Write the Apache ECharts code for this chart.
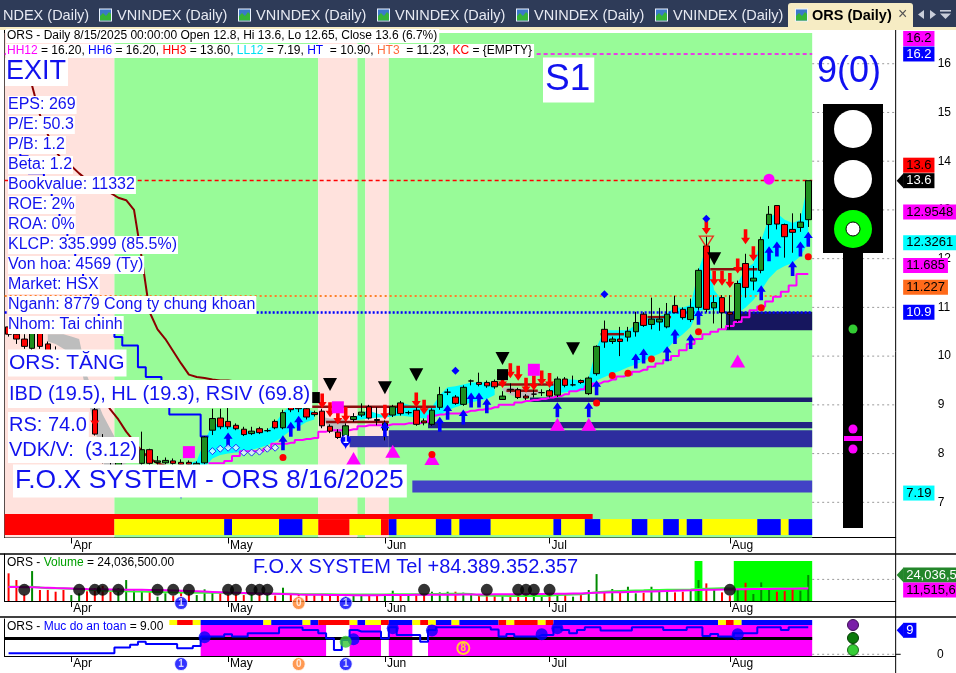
<!DOCTYPE html>
<html>
<head>
<meta charset="utf-8">
<script src="https://cdn.jsdelivr.net/npm/echarts@6/dist/echarts.min.js"></script>
<style>html,body{margin:0;padding:0;background:#fff;overflow:hidden}#chart{width:956px;height:673px}</style>
</head>
<body>
<div id="chart"></div>
<script>
// ================= DATA =================
const dates = ['03/20','03/21','03/24','03/25','03/26','03/27','03/28','03/31',
'04/01','04/02','04/03','04/04','04/08','04/09','04/10','04/11','04/14','04/15','04/16','04/17','04/18','04/21','04/22','04/23','04/24','04/25','04/28','04/29',
'05/05','05/06','05/07','05/08','05/09','05/12','05/13','05/14','05/15','05/16','05/19','05/20','05/21','05/22','05/23','05/26','05/27','05/28','05/29','05/30',
'06/02','06/03','06/04','06/05','06/06','06/09','06/10','06/11','06/12','06/13','06/16','06/17','06/18','06/19','06/20','06/23','06/24','06/25','06/26','06/27','06/30',
'07/01','07/02','07/03','07/04','07/07','07/08','07/09','07/10','07/11','07/14','07/15','07/16','07/17','07/18','07/21','07/22','07/23','07/24','07/25','07/28','07/29','07/30','07/31',
'08/01','08/04','08/05','08/06','08/07','08/08','08/11','08/12','08/13','08/14','08/15'];

const opens = [10.60,10.45,10.35,10.16,10.47,10.25,10.10,10.00,9.85,9.80,
 9.40,8.90,8.20,7.60,7.70,7.90,8.00,7.80,8.08,7.82,
 7.81,7.85,7.82,7.82,7.76,7.81,8.48,8.73,8.66,8.58,
 8.50,8.41,8.51,8.47,8.66,8.53,9.00,9.00,8.92,8.84,
 8.87,8.56,8.44,8.36,8.70,8.79,8.96,8.70,8.48,8.79,
 9.04,8.84,8.89,8.67,8.60,8.95,9.26,9.16,9.01,9.49,
 9.46,9.46,9.48,9.11,9.32,9.31,9.18,9.22,9.25,9.29,
 9.20,9.53,9.41,9.50,9.23,9.64,10.55,10.30,10.35,10.39,
 10.50,10.86,10.65,10.70,10.60,11.04,10.96,10.75,11.00,12.26,
 10.99,11.20,10.90,10.75,11.90,11.54,11.76,12.70,13.09,12.70,
 12.60,12.64,12.80];
const closes = [10.45,10.35,10.20,10.47,10.20,10.10,10.00,9.85,9.90,9.85,
 9.00,8.40,7.82,7.28,8.00,8.05,8.10,8.08,7.80,7.85,
 7.86,7.80,7.78,7.78,7.80,8.34,8.72,8.55,8.55,8.51,
 8.39,8.46,8.43,8.47,8.53,8.84,8.90,8.92,8.75,8.80,
 8.57,8.46,8.33,8.57,8.76,8.85,8.73,8.68,8.62,8.96,
 8.82,8.84,8.60,8.63,8.89,9.21,9.26,9.03,9.36,9.49,
 9.42,9.39,9.37,9.18,9.31,9.15,9.14,9.22,9.25,9.18,
 9.53,9.40,9.41,9.46,9.55,10.20,10.29,10.35,10.30,10.51,
 10.69,10.63,10.76,10.76,10.86,10.89,10.79,11.00,11.76,10.96,
 11.10,10.89,10.86,11.49,11.41,11.60,12.39,12.91,12.71,12.45,
 12.54,12.75,13.60];
const lows = [10.40,10.25,10.15,10.10,10.15,10.00,9.95,9.80,9.75,9.70,
 8.95,8.37,7.80,7.19,7.60,7.85,7.95,7.75,7.75,7.75,
 7.78,7.75,7.72,7.74,7.72,7.78,8.38,8.50,8.50,8.48,
 8.36,8.38,8.40,8.44,8.50,8.50,8.85,8.85,8.70,8.76,
 8.52,8.42,8.30,8.14,8.65,8.75,8.70,8.58,8.27,8.75,
 8.78,8.80,8.57,8.58,8.57,8.90,9.20,9.00,8.98,9.40,
 9.38,9.35,9.33,9.10,9.24,9.12,9.10,9.15,9.18,9.15,
 9.16,9.36,9.38,9.43,9.20,9.60,10.17,10.25,10.00,10.30,
 10.40,10.60,10.55,10.52,10.57,10.88,10.75,10.70,10.95,10.90,
 10.67,10.57,10.55,10.70,11.20,11.35,11.70,12.41,12.60,12.02,
 12.12,12.55,12.65];
const highs = [10.70,10.55,10.45,10.55,10.55,10.30,10.20,10.05,10.00,9.95,
 9.50,9.00,8.40,7.90,8.05,8.25,8.20,8.45,8.10,7.95,
 7.92,7.90,7.88,7.86,7.84,8.36,8.92,8.92,8.95,8.62,
 8.55,8.55,8.55,8.52,8.70,8.90,9.24,9.10,8.98,8.88,
 8.92,8.60,8.50,8.62,8.83,9.03,9.00,8.95,8.68,9.00,
 9.08,8.88,9.08,8.72,8.93,9.37,9.33,9.20,9.40,9.52,
 9.66,9.50,9.52,9.28,9.44,9.35,9.22,9.35,9.32,9.33,
 9.58,9.57,9.60,9.52,9.58,10.22,10.73,10.40,10.60,10.60,
 10.91,10.90,11.20,10.99,11.09,11.24,11.00,11.18,11.80,12.45,
 11.25,11.25,11.25,11.55,12.10,11.85,12.45,13.08,13.09,12.72,
 12.93,12.93,13.60];

// cloud (fast / slow lines) - cyan when fast above slow, grey otherwise
const cloudA = [null,null,null,null,null,
 10.30,10.25,10.15,10.05,9.95,
 9.20,8.50,7.90,7.10,7.70,7.80,
 null,null,null,null,null,null,null,
 7.80,7.85,8.27,8.58,8.62,8.58,8.52,
 8.46,8.45,8.46,8.48,8.62,8.85,8.99,8.99,8.92,8.85,
 8.72,8.50,8.38,8.40,8.72,8.85,8.88,8.82,8.78,8.92,
 9.05,9.00,8.95,8.90,8.95,9.20,9.36,9.38,9.42,9.46,
 9.46,9.46,9.46,9.30,9.20,9.15,9.14,9.18,9.26,9.36,
 9.50,9.52,9.52,9.50,9.55,10.18,10.53,10.53,10.53,10.53,
 10.65,10.75,10.80,10.82,10.88,11.00,11.00,11.05,11.76,12.24,
 11.35,11.15,10.90,11.50,11.80,11.90,12.38,12.85,12.93,12.80,
 12.73,12.80,13.61];
const cloudB = [null,null,null,null,null,
 10.45,10.45,10.45,10.40,10.35,
 9.60,9.20,8.80,8.50,8.20,7.90,
 null,null,null,null,null,null,null,
 7.75,7.70,7.72,7.90,7.97,8.00,8.02,
 8.03,8.08,8.12,8.17,8.25,8.35,8.48,8.55,8.65,8.70,
 8.75,8.72,8.72,8.70,8.68,8.70,8.72,8.74,8.74,8.76,
 8.78,8.76,8.74,8.72,8.74,8.78,8.89,8.95,9.00,9.05,
 9.09,9.12,9.20,9.35,9.36,9.34,9.32,9.30,9.28,9.26,
 9.24,9.26,9.28,9.28,9.30,9.50,9.57,9.64,9.70,9.77,
 9.83,9.90,9.98,10.05,10.15,10.32,10.45,10.60,10.94,10.94,
 10.94,10.92,11.00,10.88,11.00,11.15,11.35,11.60,11.76,11.85,
 11.91,12.05,12.33];

// magenta trailing line
const magLine = [null,null,null,null,null,null,null,null,null,null,
 null,null,null,null,null,null,null,null,null,null,
 null,null,null,null,null,null,
 7.80,7.80,7.85,7.95,8.05,8.05,8.05,8.10,8.20,8.20,
 8.22,8.28,8.30,8.32,8.45,8.48,8.48,8.48,8.50,8.56,
 8.58,8.58,8.58,8.60,8.60,8.62,8.62,8.65,8.78,8.80,
 8.82,8.82,8.85,8.88,8.90,8.92,8.95,9.00,9.00,9.05,
 9.08,9.10,9.12,9.15,9.18,9.22,9.28,9.32,9.38,9.44,
 9.48,9.52,9.58,9.62,9.68,9.72,9.78,9.85,9.92,10.00,
 10.12,10.25,10.35,10.45,10.50,10.55,10.62,10.70,10.80,10.94,
 11.02,11.12,11.22,11.32,11.45,11.685,11.685];
// blue stop line (early part)
const blueStop = [14.4,14.4,14.1,13.75,13.75,13.4,13.0,12.6,12.2,11.8,
 11.5,11.1,10.68,10.55,10.39,10.22,10.22,9.77,9.57,9.57,
 9.0,8.8,8.8,8.8,8.8,8.35];
// brown lines
const brown1 = [null,null,null,
 15.55,14.95,14.55,14.2,14.0,13.9,13.75,13.62,13.6,13.5,13.35,13.25,13.2,13.0,12.0,10.9,10.55,
 10.35,10.1,9.85,9.62,9.57,9.55,9.52,9.5,9.5,9.48,9.48,9.47,9.47,9.46,9.46,9.45,9.45,9.45];
const brown2 = [null,null,null,null,null,null,null,null,null,null,null,
 9.4,9.15,8.9,8.7,8.45,8.25,8.05,7.9,7.8,7.75];
// resistance segments [startBar, endBar, price]
const resistSegs = [[39,54,8.96],[41,48,8.65],[62,69,9.42],[64,67,9.29],[76,78,10.45],[82,84,10.8],[90,95,11.78]];
// support zones [startBar, endBar, low, high]
const zoneBands = [[92,102,10.53,10.91],[67,102,9.06,9.15],[54,102,8.52,8.65],[44,48,8.13,8.36],[49,102,8.13,8.48],[52,102,7.20,7.45]];
// horizontal levels
const levelHH12 = 16.2, levelClose = 13.6, levelHT3 = 11.227, levelHT = 10.9;

// markers [bar, price]
const upArrows = [[28,8.28],[35,8.22],[36,8.5],[37,8.62],[48,8.5],[55,8.6],[56,8.85],[58,8.75],[59,9.1],[60,9.1],[61,8.98],[70,8.9],[74,8.9],[75,9.35],[80,9.9],[81,10.0],[84,10.05],[85,10.4],[87,10.3],[88,10.8],[96,11.3],[97,12.1],[98,12.2],[100,11.8],[101,12.2],[102,12.4]];
const downArrows = [[11,8.7],[40,9.08],[41,8.9],[42,8.75],[43,8.8],[48,8.85],[52,9.1],[53,8.95],[63,9.5],[64,9.7],[65,9.65],[66,9.4],[67,9.45],[68,9.55],[69,9.5],[89,12.65],[90,11.6],[91,11.6],[92,11.55],[93,11.85],[94,12.45],[95,12.1]];
const blackTris = [[41,9.42],[48,9.35],[52,9.62],[63,9.95],[72,10.15],[90,12.0]];
const magTris = [[44,7.9],[49,8.05],[54,7.9],[70,8.6],[74,8.6],[93,9.9]];
const magSquares = [[23,8.03],[42,8.95],[67,9.72]];
const blackSquares = [[39,9.15],[63,9.62]];
const redDots = [[35,7.92],[54,7.98],[75,9.04],[77,9.6],[79,9.65],[82,9.94],[88,10.5],[96,10.99],[102,12.04]];
const blueDots = [[57,9.7],[76,11.27],[89,12.82]];
const hollowDiamonds = [[26,8.05],[27,8.1],[28,8.12],[29,8.12],[30,8.02],[31,8.02],[32,8.04],[33,8.1],[34,8.12]];
const bigMagDots = [[97,13.63]];
const hollowRedTris = [[89,12.35]];
const pins = [[43,8.08],[22,7.05]];
const pinText = ['1','!'];

// zone runs [startBar, endBar, code]
const bgRuns = [[0,13,'P'],[14,39,'G'],[40,44,'P'],[45,45,'G'],[46,48,'P'],[49,102,'G']];
const bandTopRuns = [[0,74,'R']];
const bandRuns = [[0,13,'R'],[14,27,'Y'],[28,28,'B'],[29,34,'Y'],[35,37,'B'],[38,39,'Y'],[40,43,'R'],[44,47,'Y'],[48,48,'R'],[49,49,'B'],[50,54,'Y'],[55,56,'B'],[57,57,'Y'],[58,61,'B'],[62,69,'Y'],[70,70,'B'],[71,73,'Y'],[74,75,'B'],[76,79,'Y'],[80,81,'B'],[82,83,'Y'],[84,85,'B'],[86,86,'Y'],[87,88,'B'],[89,95,'Y'],[96,98,'B'],[99,99,'Y'],[100,102,'B']];

// volume (millions)
const volumes = [25.6,19.4,6.0,27.7,10.2,10.2,8.6,10.2,5.5,7.1,
 9.0,12.0,14.0,8.6,12.0,19.4,10.2,9.5,10.2,4.0,
 7.1,5.0,9.5,7.1,5.5,10.8,7.7,7.1,6.0,6.0,
 5.5,6.0,6.0,5.5,5.0,12.3,7.1,6.5,5.5,6.5,
 6.5,6.2,6.2,6.5,5.5,5.5,6.2,5.5,6.5,9.5,
 6.5,5.5,6.2,6.0,8.6,8.0,8.6,8.6,7.7,7.1,
 5.5,6.0,5.5,5.5,5.5,6.0,6.0,6.0,5.5,6.0,
 7.1,6.5,4.0,5.5,10.2,24.9,9.2,11.1,8.0,13.2,
 7.1,7.7,13.2,10.2,10.2,8.0,8.6,9.5,19.4,16.3,
 10.2,8.0,5.0,10.2,16.9,6.5,17.2,12.6,8.6,9.2,
 11.7,9.5,24.0365];
const volMaSlow = [13.0,13.0,12.8,12.8,12.5,12.3,12.0,11.8,11.5,11.2,
 11.0,10.9,10.8,10.7,10.6,10.5,10.4,10.3,10.2,10.1,
 10.0,9.8,9.6,9.3,9.0,8.7,8.4,8.1,7.8,7.6,
 7.4,7.2,7.0,6.8,6.6,6.4,6.2,6.0,5.9,5.8,
 5.7,5.6,5.5,5.5,5.4,5.4,5.4,5.4,5.5,5.5,
 5.6,5.6,5.7,5.7,5.8,5.8,5.9,5.9,6.0,6.0,
 6.1,6.1,6.2,6.2,6.3,6.3,6.4,6.4,6.5,6.6,
 6.7,6.8,6.9,7.0,7.3,7.6,7.8,8.0,8.2,8.4,
 8.6,8.7,8.9,9.1,9.3,9.5,9.7,9.9,10.2,10.4,
 10.5,10.6,10.7,10.8,10.9,11.0,11.1,11.2,11.3,11.4,
 11.45,11.5,11.5157];
const volMaFast = [13.2,13.2,13.0,13.2,12.5,11.8,11.7,11.6,11.4,11.0,
 10.6,10.2,9.8,9.4,9.2,9.0,8.9,8.8,8.6,8.4,
 8.2,8.0,7.9,7.8,7.7,7.7,7.7,7.6,7.5,7.3,
 7.2,7.1,7.0,6.9,6.8,6.8,6.6,6.4,6.3,6.2,
 6.2,6.2,6.1,6.1,6.0,6.0,6.0,6.0,6.1,6.2,
 6.2,6.2,6.2,6.3,6.4,6.5,6.6,6.6,6.6,6.5,
 5.2,5.0,4.9,4.8,4.7,4.6,4.6,4.6,4.7,4.8,
 5.6,5.8,6.0,6.3,7.2,8.0,8.5,9.0,9.3,9.6,
 9.8,9.9,10.1,10.2,10.3,10.3,10.4,10.6,11.0,11.4,
 11.6,11.7,11.6,11.6,11.8,11.8,12.0,12.1,12.0,11.9,
 11.8,11.8,12.2];
const volDotBars = [2,9,11,12,14,19,21,23,28,29,31,32,33,53,61,65,66,67,69,92];
const volDotLevel = 10.3;
const volHighlightRuns = [[88,88,'L'],[93,102,'L']];

// safety index ("Muc do an toan")
const safety = [0.34,0.34,0.34,0.34,0.34,0.34,0.34,0.34,0.34,0.34,
 0.34,0.34,0.34,0.34,2.3,2.3,3.2,4.2,3.4,3.4,
 3.4,3.4,2.0,2.0,2.8,5.9,5.9,5.9,6.7,5.9,
 5.9,7.0,7.0,7.0,7.0,8.9,8.9,8.9,8.1,8.1,
 7.0,5.3,1.4,4.8,8.1,7.6,7.6,7.6,5.3,9.0,
 6.4,6.4,6.4,4.2,8.1,9.0,9.0,9.0,9.0,9.0,
 9.0,9.0,8.3,5.9,6.8,5.9,5.9,5.9,6.4,6.4,
 9.0,8.1,7.0,8.1,9.0,9.0,7.9,7.9,7.9,7.9,
 9.0,9.0,9.0,9.0,8.1,8.1,8.1,9.0,9.0,6.1,
 6.8,5.9,5.9,7.0,7.0,7.0,9.0,9.0,9.0,8.1,
 9.0,9.0,9.0];
const safetyThreshold = 5.2;
const safetyBlueDots = [[25,5.7],[44,5.0],[49,8.7],[54,7.9],[68,6.7],[70,8.7],[93,6.7]];
const safetyGreenDots = [[43,4.2]];
const safetyFillRuns = [[25,40,'M'],[44,47,'M'],[49,51,'M'],[54,102,'M']];
const safetyBandRuns = [[21,21,'Y'],[22,23,'R'],[24,24,'Y'],[25,32,'B'],[33,33,'Y'],[34,37,'B'],[38,38,'Y'],[39,39,'B'],[40,43,'R'],[44,44,'Y'],[45,45,'B'],[46,47,'Y'],[48,48,'R'],[49,51,'B'],[52,52,'Y'],[53,53,'R'],[54,54,'Y'],[55,56,'B'],[57,57,'Y'],[58,62,'B'],[63,63,'R'],[64,64,'Y'],[65,67,'R'],[68,68,'Y'],[69,69,'R'],[70,90,'B'],[91,91,'Y'],[92,92,'R'],[93,93,'Y'],[94,102,'B']];
const badgeBars = [22,37,43];
const badgeText = ['1','0','1'];
const safetyEightBar = [[58,2.1]];

// axis ticks / right-hand tags
const priceTicks = [7,8,9,10,11,12,13,14,15,16];
const tagLevels = [16.2,16.2,13.6,13.6,12.9548,12.3261,11.685,11.227,10.9,7.19];
const tagLabels = ['16.2','16.2','13.6','13.6','12.9548','12.3261','11.685','11.227','10.9','7.19'];
const volTagLevels = [24.0365, 11.5157];
const volTagLabels = ['24,036,500','11,515,669'];
const safetyTagLevel = 9, safetyTagLabel = '9';

// ================= LAYOUT / STYLE =================
const FONT = '"Liberation Sans", Arial, Helvetica, sans-serif';
const N = dates.length;
const CW = 7.84, GL = 4.66, DW = N * CW, AXW = 891;
const MAIN_TOP = 30, MAIN_H = 507.5, P_MIN = 6.278, P_MAX = 16.692;
const BG_TOP = 16.63;
const BAND_R_TOP = 6.759, BAND_C_TOP = 6.656, BAND_C_BOT = 6.328;
const VOL_TOP = 554, VOL_H = 47, VOL_MAX = 43.5, VOL_HL_TOP = 37, BADGE_V = -1.9;
const SAF_TOP = 619, SAF_H = 37, S_MIN = -0.57, S_MAX = 11.77, S_FILL_TOP = 9.77, S_BAND_TOP = 11.43, S_BADGE = -3.25;
const colorMap = {P:'#FFE2DD', G:'#98FB98', R:'#FF0000', Y:'#FFFF00', B:'#0000FF', M:'#FF00FF', L:'#00FF00'};
const zoneColors = ['#16165E','#1C1C70','#232384','#3535AA','#2D2D9E','#4242C6'];
const TXT = '#1212EE';

const MONTHS = {'03':'Mar','04':'Apr','05':'May','06':'Jun','07':'Jul','08':'Aug'};
function monthStart(i){ return i > 0 && dates[i].slice(0,2) !== dates[i-1].slice(0,2); }

function catAxis(gi){
  return {type:'category', gridIndex:gi, data:dates, boundaryGap:true,
    axisLine:{show:true, onZero:false, lineStyle:{color:'#000', width:1}},
    axisTick:{show:true, interval:(i)=>monthStart(i), alignWithLabel:true, length:6, lineStyle:{color:'#000'}},
    axisLabel:{show:true, interval:(i)=>monthStart(i), formatter:(v)=>MONTHS[v.slice(0,2)], align:'left', margin:2, padding:[0,0,0,2], color:'#000', fontSize:12, fontFamily:FONT},
    splitLine:{show:false}};
}
function pxAxis(gi){
  return {type:'value', gridIndex:gi, min:0, max:AXW, axisLine:{show:true, onZero:false, lineStyle:{color:'#000'}}, axisTick:{show:false}, axisLabel:{show:false}, splitLine:{show:false}};
}
function hidY(gi, mn, mx){ return {type:'value', gridIndex:gi, min:mn, max:mx, show:false, splitLine:{show:false}}; }

function runSeries(runs, top, bot, gi, z){
  return {type:'custom', xAxisIndex:gi, yAxisIndex:gi, z:z, silent:true,
    renderItem:function(params, api){
      const s = api.value(0), e = api.value(1);
      const a = api.coord([s, top]), b = api.coord([e, bot]);
      const w = api.size([1,0])[0];
      return {type:'rect', shape:{x:a[0]-w/2, y:a[1], width:b[0]-a[0]+w, height:b[1]-a[1]}, style:{fill:api.visual('color')}};
    },
    data: runs.map(r => ({value:[r[0], r[1]], itemStyle:{color:colorMap[r[2]]}}))};
}
function scat(data, symbol, size, color, extra){
  return Object.assign({type:'scatter', xAxisIndex:0, yAxisIndex:0, z:6, silent:true, symbol:symbol, symbolSize:size,
    itemStyle:{color:color, opacity:1}, data:data}, extra||{});
}
function gridLines(ticks, gi){
  return {type:'custom', xAxisIndex:gi, yAxisIndex:gi, z:1, silent:true,
    renderItem:function(params, api){
      const v = api.value(1);
      const a = api.coord([DW, v]), b = api.coord([AXW, v]);
      return {type:'line', shape:{x1:a[0], y1:a[1], x2:b[0], y2:b[1]}, style:{stroke:'#9a9a9a', lineWidth:1, lineDash:[2,3]}};
    },
    data: ticks.map(v => [0, v])};
}

// cloud split
const cyBase = cloudA.map((a,i) => (a == null || a < cloudB[i]) ? null : cloudB[i]);
const cyDiff = cloudA.map((a,i) => (a == null || a < cloudB[i]) ? null : +(a - cloudB[i]).toFixed(4));
const grBase = cloudA.map((a,i) => (a == null || a >= cloudB[i]) ? null : a);
const grDiff = cloudA.map((a,i) => (a == null || a >= cloudB[i]) ? null : +(cloudB[i] - a).toFixed(4));
const pad = (arr) => arr.concat(new Array(Math.max(0, N - arr.length)).fill(null));

const UP_ARROW = 'path://M5,0L10,6L7,6L7,14L3,14L3,6L0,6Z';
const DOWN_ARROW = 'path://M3,0L7,0L7,8L10,8L5,14L0,8L3,8Z';
const DOWN_TRI = 'path://M0,0L10,0L5,9Z';

const series = [
  runSeries(bgRuns, BG_TOP, P_MIN, 0, 1),
  {type:'custom', xAxisIndex:0, yAxisIndex:0, z:2, silent:true,
   renderItem:function(params, api){
     const a = api.coord([api.value(0), api.value(3)]), b = api.coord([api.value(1), api.value(2)]);
     const w = api.size([1,0])[0];
     return {type:'rect', shape:{x:a[0]-w/2, y:a[1], width:b[0]-a[0]+w, height:b[1]-a[1]}, style:{fill:api.visual('color')}};
   },
   data: zoneBands.map((z,i) => ({value:z, itemStyle:{color:zoneColors[i]}}))},
  runSeries(bandTopRuns, BAND_R_TOP, BAND_C_TOP, 0, 2),
  runSeries(bandRuns, BAND_C_TOP, BAND_C_BOT, 0, 2),
  {type:'line', xAxisIndex:0, yAxisIndex:0, stack:'cy', data:cyBase, symbol:'none', lineStyle:{opacity:0}, z:3, silent:true},
  {type:'line', xAxisIndex:0, yAxisIndex:0, stack:'cy', data:cyDiff, symbol:'none', lineStyle:{width:0, opacity:0}, areaStyle:{color:'#00FFFF', opacity:1}, z:3, silent:true},
  {type:'line', xAxisIndex:0, yAxisIndex:0, stack:'gr', data:grBase, symbol:'none', lineStyle:{opacity:0}, z:3, silent:true},
  {type:'line', xAxisIndex:0, yAxisIndex:0, stack:'gr', data:grDiff, symbol:'none', lineStyle:{width:0, opacity:0}, areaStyle:{color:'#BDBDBD', opacity:1}, z:3, silent:true},
  {type:'line', xAxisIndex:0, yAxisIndex:0, data:magLine, step:'middle', symbol:'none', lineStyle:{color:'#FF00FF', width:2}, z:4, silent:true,
   markLine:{silent:true, symbol:'none', z:4, label:{show:false}, data:[
     {yAxis:levelHH12, lineStyle:{color:'#FF00FF', type:[4,3], width:1.5}},
     {yAxis:levelClose, lineStyle:{color:'#FF0000', type:[4,3], width:1.3}},
     {yAxis:levelHT3, lineStyle:{color:'#FF7F27', type:[2,3], width:2}},
     {yAxis:levelHT, lineStyle:{color:'#0000FF', type:[2,2], width:2.5}}]}},
  {type:'line', xAxisIndex:0, yAxisIndex:0, data:pad(blueStop), step:'middle', symbol:'none', lineStyle:{color:'#0000FF', width:2}, z:4, silent:true},
  {type:'line', xAxisIndex:0, yAxisIndex:0, data:pad(brown1), symbol:'none', lineStyle:{color:'#8B0000', width:2}, z:4, silent:true},
  {type:'line', xAxisIndex:0, yAxisIndex:0, data:pad(brown2), symbol:'none', lineStyle:{color:'#8B0000', width:2}, z:4, silent:true},
  {type:'custom', xAxisIndex:0, yAxisIndex:0, z:4, silent:true,
   renderItem:function(params, api){
     const a = api.coord([api.value(0), api.value(2)]), b = api.coord([api.value(1), api.value(2)]);
     const w = api.size([1,0])[0];
     return {type:'line', shape:{x1:a[0]-w/2, y1:a[1], x2:b[0]+w/2, y2:b[1]}, style:{stroke:'#8B1010', lineWidth:2.5}};
   },
   data: resistSegs},
  {type:'candlestick', xAxisIndex:0, yAxisIndex:0, z:5, silent:true, barWidth:6,
   itemStyle:{color:'#1E8E1E', color0:'#FF0000', borderColor:'#000', borderColor0:'#000', borderWidth:1},
   data: dates.map((d,i) => [opens[i], closes[i], lows[i], highs[i]])},
  scat(upArrows, UP_ARROW, [9,15], '#0000FF'),
  scat(downArrows, DOWN_ARROW, [9,15], '#FF0000'),
  scat(blackTris, DOWN_TRI, [14,13], '#000000'),
  scat(magTris, 'triangle', [15,13], '#FF00FF'),
  scat(magSquares, 'rect', 12, '#FF00FF'),
  scat(blackSquares, 'rect', 11, '#000000'),
  scat(redDots, 'circle', 7, '#FF0000'),
  scat(blueDots, 'diamond', 8, '#0000FF'),
  scat(hollowDiamonds, 'diamond', 7, '#FFFFFF', {itemStyle:{color:'#E0FFFF', borderColor:'#0000FF', borderWidth:1}}),
  scat(bigMagDots, 'circle', 11, '#FF00FF'),
  scat(hollowRedTris, DOWN_TRI, [14,11], '#FF0000', {itemStyle:{color:'rgba(0,0,0,0)', borderColor:'#FF0000', borderWidth:1.3}}),
  scat(pins.map((p,i) => ({value:p, label:{formatter:pinText[i]}})), 'pin', 17, '#0000FF',
    {label:{show:true, position:'inside', offset:[0,-1], color:'#fff', fontSize:10, fontWeight:'bold', fontFamily:FONT}}),
  // price axis right-area gridlines
  gridLines(priceTicks, 1),
  // ---- volume ----
  runSeries(volHighlightRuns, VOL_HL_TOP, 0, 2, 1),
  {type:'bar', xAxisIndex:2, yAxisIndex:2, z:2, silent:true, barWidth:2,
   data: volumes.map((v,i) => ({value:v, itemStyle:{color: closes[i] >= opens[i] ? '#008A00' : '#FF0000'}}))},
  {type:'line', xAxisIndex:2, yAxisIndex:2, z:3, data:volMaFast, symbol:'none', lineStyle:{color:'#33FF33', width:2}, silent:true},
  {type:'line', xAxisIndex:2, yAxisIndex:2, z:3, data:volMaSlow, symbol:'none', lineStyle:{color:'#FF00FF', width:2}, silent:true},
  {type:'scatter', xAxisIndex:2, yAxisIndex:2, z:4, silent:true, symbol:'circle', symbolSize:12, itemStyle:{color:'#000'},
   data: volDotBars.map(b => [b, volDotLevel])},
  {type:'scatter', xAxisIndex:2, yAxisIndex:2, z:5, silent:true, clip:false, symbol:'circle', symbolSize:13,
   label:{show:true, position:'inside', color:'#fff', fontSize:10, fontWeight:'bold', fontFamily:FONT},
   data: badgeBars.map((b,i) => ({value:[b, BADGE_V], label:{formatter:badgeText[i]}, itemStyle:{color: badgeText[i]==='0' ? '#FF7F27' : '#0000FF', borderColor:'#fff', borderWidth:1}}))},
  gridLines([20], 3),
  // ---- safety ----
  runSeries(safetyFillRuns, S_FILL_TOP, S_MIN, 4, 1),
  runSeries(safetyBandRuns, S_BAND_TOP, S_FILL_TOP, 4, 1),
  {type:'line', xAxisIndex:4, yAxisIndex:4, z:3, data:safety, step:'middle', symbol:'none', lineStyle:{color:'#0000FF', width:2}, silent:true,
   markLine:{silent:true, symbol:'none', z:2, label:{show:false}, data:[{yAxis:safetyThreshold, lineStyle:{color:'#000', type:'solid', width:3}}]}},
  {type:'scatter', xAxisIndex:4, yAxisIndex:4, z:4, silent:true, symbol:'circle', symbolSize:12, itemStyle:{color:'#0000FF'}, data:safetyBlueDots},
  {type:'scatter', xAxisIndex:4, yAxisIndex:4, z:4, silent:true, symbol:'circle', symbolSize:12, itemStyle:{color:'#33C633'}, data:safetyGreenDots},
  {type:'scatter', xAxisIndex:4, yAxisIndex:4, z:5, silent:true, symbol:'circle', symbolSize:12,
   itemStyle:{color:'rgba(0,0,0,0)', borderColor:'#FFFF00', borderWidth:2},
   label:{show:true, position:'inside', formatter:'8', color:'#FFFF00', fontSize:10, fontWeight:'bold', fontFamily:FONT}, data:safetyEightBar},
  {type:'scatter', xAxisIndex:4, yAxisIndex:4, z:5, silent:true, clip:false, symbol:'circle', symbolSize:13,
   label:{show:true, position:'inside', color:'#fff', fontSize:10, fontWeight:'bold', fontFamily:FONT},
   data: badgeBars.map((b,i) => ({value:[b, S_BADGE], label:{formatter:badgeText[i]}, itemStyle:{color: badgeText[i]==='0' ? '#FF7F27' : '#0000FF', borderColor:'#fff', borderWidth:1}}))},
  gridLines([0], 5)
];

const grids = [
  {left:GL, top:MAIN_TOP, width:DW, height:MAIN_H},
  {left:GL, top:MAIN_TOP, width:AXW, height:MAIN_H},
  {left:GL, top:VOL_TOP, width:DW, height:VOL_H},
  {left:GL, top:VOL_TOP, width:AXW, height:VOL_H},
  {left:GL, top:SAF_TOP, width:DW, height:SAF_H},
  {left:GL, top:SAF_TOP, width:AXW, height:SAF_H}
].map(g => Object.assign(g, {containLabel:false, outerBoundsMode:'none', show:false}));

const option = {
  animation:false,
  backgroundColor:'#ffffff',
  textStyle:{fontFamily:FONT},
  grid: grids,
  xAxis:[catAxis(0), pxAxis(1), catAxis(2), pxAxis(3), catAxis(4), pxAxis(5)],
  yAxis:[
    hidY(0, P_MIN, P_MAX),
    {type:'value', gridIndex:1, position:'right', min:P_MIN, max:P_MAX, minInterval:1, maxInterval:1, splitNumber:10,
     axisLine:{show:true, lineStyle:{color:'#000'}}, axisTick:{show:true, length:5, lineStyle:{color:'#000'}},
     axisLabel:{show:true, margin:42, showMinLabel:false, showMaxLabel:false, color:'#000', fontSize:12, fontFamily:FONT,
       formatter:(v)=> Math.abs(v - Math.round(v)) < 1e-6 ? String(Math.round(v)) : ''},
     splitLine:{show:false}},
    hidY(2, 0, VOL_MAX),
    {type:'value', gridIndex:3, position:'right', min:0, max:VOL_MAX, axisLine:{show:true, lineStyle:{color:'#000'}}, axisTick:{show:false}, axisLabel:{show:false}, splitLine:{show:false}},
    hidY(4, S_MIN, S_MAX),
    {type:'value', gridIndex:5, position:'right', min:S_MIN, max:S_MAX, axisLine:{show:true, lineStyle:{color:'#000'}}, axisTick:{show:false}, axisLabel:{show:false}, splitLine:{show:false}}
  ],
  series: series
};

const chart = echarts.init(document.getElementById('chart'), null, {renderer:'canvas', width:956, height:673});
chart.setOption(option);

// ================= OVERLAY GRAPHICS =================
const G = [];
function T(x, y, text, size, o){
  o = o || {};
  const st = Object.assign({text:text, font:(o.weight||'normal')+' '+size+'px '+FONT, fill:o.fill||TXT, align:o.align||'left', verticalAlign:'middle'}, o.style||{});
  return {type:'text', x:x, y:y, z:100, silent:true, style:st};
}
function box(x, y, text, size, padding, o){
  o = o || {};
  return T(x, y, text, size, Object.assign({}, o, {style:Object.assign({backgroundColor:'#ffffff', padding:padding}, o.style||{})}));
}
function R(x, y, w, h, fill, extra){ return Object.assign({type:'rect', z:100, silent:true, shape:{x:x, y:y, width:w, height:h}, style:{fill:fill}}, extra||{}); }
function Cc(cx, cy, r, fill, stroke, lw){ return {type:'circle', z:101, silent:true, shape:{cx:cx, cy:cy, r:r}, style:{fill:fill, stroke:stroke||null, lineWidth:lw||0}}; }
function Ln(x1, y1, x2, y2, stroke, lw){ return {type:'line', z:100, silent:true, shape:{x1:x1, y1:y1, x2:x2, y2:y2}, style:{stroke:stroke, lineWidth:lw}}; }
function Poly(pts, fill){ return {type:'polygon', z:101, silent:true, shape:{points:pts}, style:{fill:fill}}; }

// tab bar
G.push(R(0, 0, 956, 27, '#2E3B58'));
G.push(R(0, 27, 956, 3, '#F6ECC4'));
G.push(R(788, 3, 125, 27, '#F6ECC4', {shape:{x:788, y:3, width:125, height:27, r:[3,3,0,0]}}));
const tabTextX = [3, 117, 256, 395, 534, 673];
const tabIconX = [99, 238, 377, 516, 655, 795];
tabTextX.forEach((x,i) => G.push(T(x, 15.5, i === 0 ? 'NDEX (Daily)' : 'VNINDEX (Daily)', 14.5, {fill:'#E6E9F2'})));
tabIconX.forEach(x => {
  G.push(R(x, 8.5, 13, 13, '#EAF2FF'));
  G.push(R(x+1, 9.5, 11, 11, '#3C78C8'));
  G.push(Poly([[x+1,20.5],[x+1,16],[x+4,13],[x+7,16],[x+10,12],[x+12,14],[x+12,20.5]], '#36B436'));
});
G.push(T(812, 15.5, 'ORS (Daily)', 14.5, {fill:'#000', weight:'bold'}));
G.push(T(898, 15, '\u00d7', 16, {fill:'#555'}));
G.push(Poly([[918,14.5],[924,10],[924,19]], '#C9CEDA'));
G.push(Poly([[930,10],[930,19],[936,14.5]], '#C9CEDA'));
G.push(R(940, 10, 11, 1.6, '#C9CEDA'));
G.push(Poly([[940,13.5],[951,13.5],[945.5,19]], '#C9CEDA'));

// header
G.push(box(6, 36, 'ORS - Daily 8/15/2025 00:00:00 Open 12.8, Hi 13.6, Lo 12.65, Close 13.6 (6.7%)', 12, [1,2,1,1], {fill:'#000'}));
G.push({type:'text', x:6, y:51, z:100, silent:true, style:{
  text:'{m|HH12} = 16.20, {b|HH6} = 16.20, {r|HH3} = 13.60, {c|LL12} = 7.19, {b|HT}  = 10.90, {o|HT3}  = 11.23, {r|KC} = {EMPTY}',
  font:'12px '+FONT, fill:'#000', align:'left', verticalAlign:'middle', backgroundColor:'#fff', padding:[1,2,1,1],
  rich:{m:{fill:'#FF00FF', font:'12px '+FONT}, b:{fill:'#0000FF', font:'12px '+FONT}, r:{fill:'#FF0000', font:'12px '+FONT}, c:{fill:'#00E0F0', font:'12px '+FONT}, o:{fill:'#FF6A3A', font:'12px '+FONT}}}});

// left info block
G.push(box(5, 72, 'EXIT', 27, [1,2,0,1]));
const infoLines = ['EPS: 269','P/E: 50.3','P/B: 1.2','Beta: 1.2','Bookvalue: 11332','ROE: 2%','ROA: 0%','KLCP: 335.999 (85.5%)','Von hoa: 4569 (Ty)','Market: HSX','Nganh: 8779 Cong ty chung khoan','Nhom: Tai chinh'];
infoLines.forEach((s,i) => G.push(box(8, 105 + 20*i, s, 16, [1,1,1,0])));
G.push(box(8, 363, 'ORS: T\u0102NG', 21, [3,2,3,1]));
G.push(box(8, 394, 'IBD (19.5), HL (19.3), RSIV (69.8)', 20, [4,2,4,1]));
G.push(box(8, 425, 'RS: 74.0', 20, [3,2,3,1]));
G.push(box(8, 450, 'VDK/V:  (3.12)', 20, [3,2,3,1]));
G.push(box(13, 481, 'F.O.X SYSTEM - ORS 8/16/2025', 26.5, [3,3,3,2]));
G.push(box(543, 80, 'S1', 37, [4,4,4,2]));
G.push(T(817, 72, '9(0)', 36, {fill:'#1010F0'}));

// traffic light
G.push(R(823, 104, 60, 149, '#000'));
G.push(R(843, 253, 20, 275, '#000'));
G.push(Cc(853, 129, 19, '#fff'));
G.push(Cc(853, 179, 19, '#fff'));
G.push(Cc(853, 229, 19, '#00FF00'));
G.push(Cc(853, 229, 7, '#fff', '#000', 1));
G.push(Cc(853, 329, 4.5, '#33CC33'));
G.push(Cc(853, 429, 4.5, '#FF00FF'));
G.push(Cc(853, 449, 4.5, '#FF00FF'));
G.push(R(844, 436, 18, 5, '#FF00FF', {z:102}));
// safety side dots
G.push(Cc(853, 625, 5.5, '#7A1FA8', '#3c0f55', 1));
G.push(Cc(853, 638, 5.5, '#0B7A0B', '#053c05', 1));
G.push(Cc(853, 650, 5.5, '#36CD36', '#1b661b', 1));

// panel separators and axis spine
G.push(Ln(0, 554, 956, 554, '#000', 1.5));
G.push(Ln(0, 617, 956, 617, '#000', 1.5));
G.push(Ln(GL + AXW, 30, GL + AXW, 673, '#000', 1));

// panel titles
G.push({type:'text', x:6, y:563, z:100, silent:true, style:{text:'ORS - {g|Volume} = 24,036,500.00', font:'12px '+FONT, fill:'#000', align:'left', verticalAlign:'middle', backgroundColor:'#fff', padding:[1,2,1,1], rich:{g:{fill:'#00A000', font:'12px '+FONT}}}});
G.push(T(253, 567, 'F.O.X SYSTEM Tel +84.389.352.357', 20));
G.push({type:'text', x:6, y:627, z:100, silent:true, style:{text:'ORS - {b|Muc do an toan} = 9.00', font:'12px '+FONT, fill:'#000', align:'left', verticalAlign:'middle', backgroundColor:'#fff', padding:[1,2,1,1], rich:{b:{fill:'#0000FF', font:'12px '+FONT}}}});

// right tags
const TAGX = GL + AXW + 7.5;
const tagStyle = [
  {bg:'#FF00FF', fg:'#000', dy:-15.5}, {bg:'#0000FF', fg:'#fff', dy:0},
  {bg:'#FF0000', fg:'#000', dy:-15.5}, {bg:'#000000', fg:'#fff', dy:0, ptr:true},
  {bg:'#FF00FF', fg:'#000', dy:0}, {bg:'#00FFFF', fg:'#000', dy:0},
  {bg:'#FF00FF', fg:'#000', dy:-8.5}, {bg:'#FF6A1A', fg:'#000', dy:-9},
  {bg:'#0000FF', fg:'#fff', dy:0}, {bg:'#00FFFF', fg:'#000', dy:0}];
function tag(y, label, st){
  if (st.ptr) G.push(Poly([[GL+AXW+1, y], [TAGX+0.5, y-7.5], [TAGX+0.5, y+7.5]], st.bg));
  G.push({type:'text', x:TAGX, y:y, z:101, silent:true, style:{text:label, font:'13px '+FONT, fill:st.fg, align:'left', verticalAlign:'middle', backgroundColor:st.bg, padding:[1,3,1,3]}});
}
tagLevels.forEach((v,i) => tag(chart.convertToPixel({yAxisIndex:1}, v) + tagStyle[i].dy, tagLabels[i], tagStyle[i]));
tag(chart.convertToPixel({yAxisIndex:3}, volTagLevels[0]), volTagLabels[0], {bg:'#23862A', fg:'#fff', ptr:true});
tag(chart.convertToPixel({yAxisIndex:3}, volTagLevels[1]) + 1.5, volTagLabels[1], {bg:'#FF00FF', fg:'#000'});
tag(chart.convertToPixel({yAxisIndex:5}, safetyTagLevel) + 3, safetyTagLabel, {bg:'#0000FF', fg:'#fff', ptr:true});
const y0 = chart.convertToPixel({yAxisIndex:5}, 0);
G.push(Ln(GL+AXW, y0, GL+AXW+5, y0, '#000', 1));
G.push(T(937, y0, '0', 12, {fill:'#000'}));

chart.setOption({graphic: G});
</script>
</body>
</html>
